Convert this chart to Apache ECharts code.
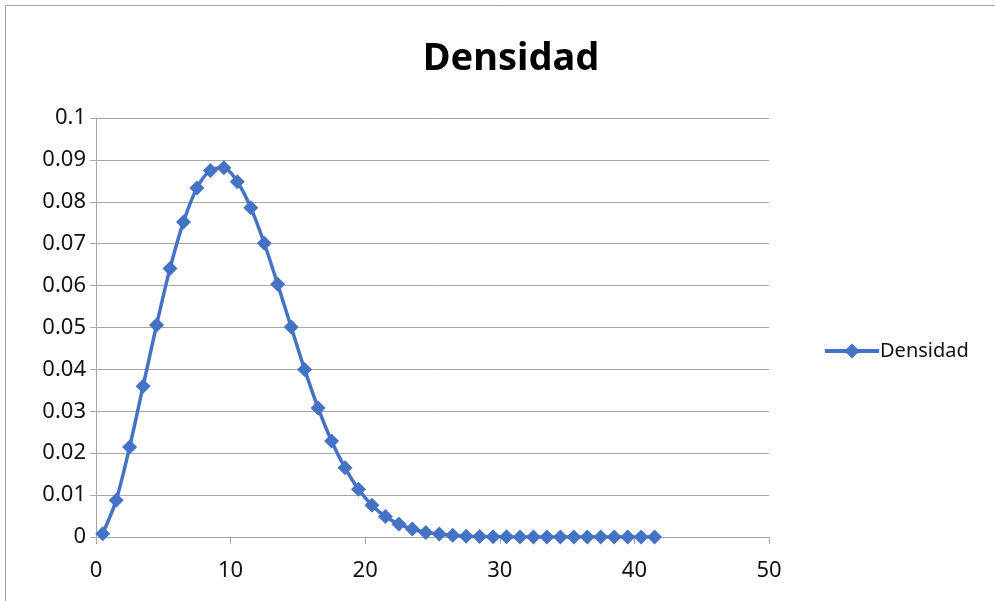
<!DOCTYPE html>
<html>
<head>
<meta charset="utf-8">
<title>Densidad</title>
<script src="https://cdn.jsdelivr.net/npm/echarts@6/dist/echarts.min.js"></script>
<style>
  html, body { margin: 0; padding: 0; background: #fff; }
  #chart { width: 995px; height: 601px; }
</style>
</head>
<body>
<div id="chart"></div>
<script>
// Midpoints of each unit interval
const xValues = [
  0.5, 1.5, 2.5, 3.5, 4.5, 5.5, 6.5, 7.5, 8.5, 9.5,
  10.5, 11.5, 12.5, 13.5, 14.5, 15.5, 16.5, 17.5, 18.5, 19.5,
  20.5, 21.5, 22.5, 23.5, 24.5, 25.5, 26.5, 27.5, 28.5, 29.5,
  30.5, 31.5, 32.5, 33.5, 34.5, 35.5, 36.5, 37.5, 38.5, 39.5,
  40.5, 41.5
];
// Density at each midpoint
const densidad = [
  0.0008, 0.0088, 0.0215, 0.0360, 0.0506, 0.0641, 0.0752, 0.0833, 0.0875, 0.0881,
  0.0848, 0.0786, 0.0701, 0.0603, 0.0501, 0.0400, 0.0308, 0.0229, 0.0165, 0.0114,
  0.0076, 0.0049, 0.0031, 0.0019, 0.0011, 0.0007, 0.0004, 0.0002, 0.0001, 0.00007,
  0.00004, 0.00002, 0.00001, 0.00001, 0.000005, 0.000003, 0.000002, 0.000001, 0.000001, 0,
  0, 0
];
const seriesName = 'Densidad';
const titleText = 'Densidad';

const points = xValues.map((x, i) => [x, densidad[i]]);

const gridColor = '#a6a6a6';
const textColor = '#111';
const lineColor = '#4472c4';
const labelFont = 'Noto Sans';

const chart = echarts.init(document.getElementById('chart'), null, { renderer: 'canvas' });
chart.setOption({
  animation: false,
  backgroundColor: '#fff',
  graphic: [{
    type: 'rect',
    shape: { x: 5.5, y: 5.5, width: 1200, height: 800 },
    style: { fill: 'none', stroke: '#a0a0a0', lineWidth: 1 },
    silent: true
  }],
  title: {
    text: titleText,
    left: 506,
    textAlign: 'center',
    top: 35,
    textStyle: { fontFamily: labelFont, fontWeight: 'bold', fontSize: 38, color: '#000' }
  },
  legend: {
    data: [seriesName],
    left: 818,
    top: 336,
    itemWidth: 54,
    itemHeight: 19,
    itemGap: 0,
    lineStyle: { width: 4 },
    textStyle: { fontFamily: labelFont, fontSize: 20, color: textColor, padding: [0, 0, 0, -4] }
  },
  grid: { left: 96, right: 226, top: 118, bottom: 64, containLabel: false },
  xAxis: {
    type: 'value',
    min: 0,
    max: 50,
    interval: 10,
    axisLine: { show: true, lineStyle: { color: gridColor, width: 1 } },
    axisTick: { show: true, length: 7, lineStyle: { color: gridColor } },
    splitLine: { show: false },
    axisLabel: { margin: 23, fontFamily: labelFont, fontSize: 22, color: textColor }
  },
  yAxis: {
    type: 'value',
    min: 0,
    max: 0.1,
    interval: 0.01,
    axisLine: { show: true, lineStyle: { color: gridColor, width: 1 } },
    axisTick: { show: true, length: 6, lineStyle: { color: gridColor } },
    splitLine: { show: true, lineStyle: { color: gridColor, width: 1 } },
    axisLabel: {
      margin: 10,
      fontFamily: labelFont,
      fontSize: 22,
      color: textColor,
      formatter: v => String(+v.toFixed(2))
    }
  },
  series: [{
    name: seriesName,
    type: 'line',
    data: points,
    smooth: 0.3,
    symbol: 'diamond',
    symbolSize: 15,
    showAllSymbol: true,
    lineStyle: { color: lineColor, width: 3.5 },
    itemStyle: { color: lineColor }
  }]
});
</script>
</body>
</html>
